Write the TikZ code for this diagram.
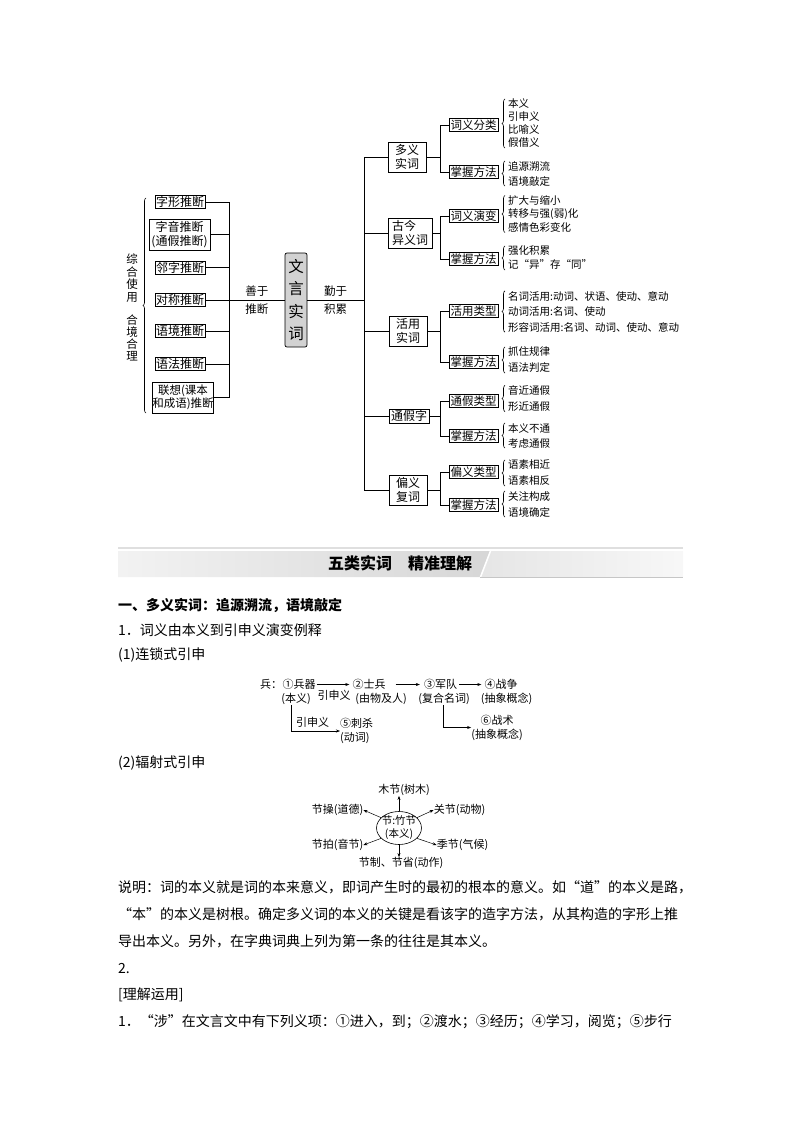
\documentclass[tikz,border=0pt]{standalone}
\usepackage{fontspec}
\setmainfont{Noto Sans CJK SC}
\usepackage{tikz}
\usetikzlibrary{arrows.meta}
\usetikzlibrary{shapes.geometric, calc, decorations.pathreplacing}

\begin{document}
\begin{tikzpicture}[x=1pt, y=-1pt,
    boite/.style={draw, line width=0.7pt, inner sep=0pt, align=center, font=\fontsize{12}{13.5}\selectfont},
    methode/.style={boite, minimum width=49pt, minimum height=13pt, font=\fontsize{11.5}{12}\selectfont},
    liste/.style={anchor=west, inner sep=0pt, align=left, font=\fontsize{10.5}{#1}\selectfont},
    liste/.default=15,
    lien/.style={align=center, inner sep=0pt, font=\fontsize{11.5}{18}\selectfont},
    accolade/.style={decorate, decoration={brace, amplitude=3pt}, line width=0.6pt},
    texte/.style={anchor=west, inner sep=0pt, font=\fontsize{14}{16}\selectfont},
    petit/.style={inner sep=0pt, font=\fontsize{11}{14}\selectfont},
    fleche/.style={-{Stealth[length=4pt, width=3pt]}, line width=0.5pt}
]
\useasboundingbox (0,0) rectangle (800,1132);

% Partie gauche
\node[boite, minimum width=50pt, minimum height=13pt] (zixing) at (180,202) {字形推断};
\node[boite, minimum width=61pt, minimum height=31pt] (ziyin) at (179.5,234.5) {字音推断\\(通假推断)};
\node[boite, minimum width=50pt, minimum height=13pt] (linzi) at (180,267.5) {邻字推断};
\node[boite, minimum width=50pt, minimum height=13pt] (duichen) at (180,300) {对称推断};
\node[boite, minimum width=50pt, minimum height=13pt] (yujing) at (180,331) {语境推断};
\node[boite, minimum width=50pt, minimum height=13pt] (yufa) at (180,364) {语法推断};
\node[boite, minimum width=60pt, minimum height=31pt, font=\fontsize{11.5}{13.5}\selectfont] (lianxiang) at (183,397.5) {联想(课本\\和成语)推断};
\draw[accolade] (146,413) -- (146,198);
\node[inner sep=0pt, align=center, font=\fontsize{11.5}{12.5}\selectfont] (zonghe) at (132,278) {综\\合\\使\\用};
\node[inner sep=0pt, align=center, font=\fontsize{11.5}{12}\selectfont] (hejing) at (132,338) {合\\境\\合\\理};

% Centre
\node[draw, line width=0.7pt, fill=gray!35, rounded corners=2pt, inner sep=0pt, align=center,
      minimum width=22pt, minimum height=94pt, font=\fontsize{15.5}{22.5}\selectfont] (wenyan) at (296,300) {文\\言\\实\\词};
\coordinate (gauche) at (229,300);
\coordinate (tronc) at (364,300);
\foreach \n in {zixing,ziyin,linzi,duichen,yujing,yufa,lianxiang}
    \draw[line width=0.7pt] (\n.east) -| (gauche);
\draw[line width=0.7pt] (gauche) -- node[lien]{善于\\推断} (wenyan.west);
\draw[line width=0.7pt] (wenyan.east) -- node[lien]{勤于\\积累} (tronc);

% Partie droite
\node[boite, minimum width=38pt, minimum height=30pt] (duoyi) at (407,157) {多义\\实词};
\node[boite, align=left, minimum width=44pt, minimum height=30pt] (gujin) at (410,233) {古今\\异义词};
\node[boite, minimum width=38pt, minimum height=30pt] (huoyong) at (408,331) {活用\\实词};
\node[boite, minimum width=40pt, minimum height=14pt] (tongjia) at (409,416) {通假字};
\node[boite, minimum width=38pt, minimum height=30pt] (pianyi) at (408,490) {偏义\\复词};
\foreach \n in {duoyi,gujin,huoyong,tongjia,pianyi}
    \draw[line width=0.7pt] (tronc) |- (\n.west);

\node[methode] (fenlei) at (473.5,125) {词义分类};
\node[methode] (fa1) at (473.5,172) {掌握方法};
\node[methode] (yanbian) at (473.5,216) {词义演变};
\node[methode] (fa2) at (473.5,259) {掌握方法};
\node[methode] (leixing) at (473.5,311) {活用类型};
\node[methode] (fa3) at (473.5,362) {掌握方法};
\node[methode] (tjlei) at (473.5,401) {通假类型};
\node[methode] (fa4) at (473.5,436) {掌握方法};
\node[methode] (pylei) at (473.5,472) {偏义类型};
\node[methode] (fa5) at (473.5,505) {掌握方法};
\foreach \p/\a/\b in {duoyi/fenlei/fa1, gujin/yanbian/fa2, huoyong/leixing/fa3, tongjia/tjlei/fa4, pianyi/pylei/fa5} {
    \draw[line width=0.7pt] (\p.east) -| ([xshift=-8pt]\a.west) -- (\a.west);
    \draw[line width=0.7pt] (\p.east) -| ([xshift=-8pt]\b.west) -- (\b.west);
}

% Listes
\node[liste=13] (i1) at (508,123.5) {本义\\引申义\\比喻义\\假借义};
\node[liste] (i2) at (508,173.5) {追源溯流\\语境敲定};
\node[liste=13.5] (i3) at (508,214) {扩大与缩小\\转移与强(弱)化\\感情色彩变化};
\node[liste=14] (i4) at (508,258) {强化积累\\记“异”存“同”};
\node[liste=15.5] (i5) at (508,311.5) {名词活用:动词、状语、使动、意动\\动词活用:名词、使动\\形容词活用:名词、动词、使动、意动};
\node[liste=16] (i6) at (508,360) {抓住规律\\语法判定};
\node[liste=16] (i7) at (508,398.5) {音近通假\\形近通假};
\node[liste] (i8) at (508,435.5) {本义不通\\考虑通假};
\node[liste=16] (i9) at (508,473) {语素相近\\语素相反};
\node[liste=16] (i10) at (508,504) {关注构成\\语境确定};
\foreach \n in {i1,i2,i3,i4,i5,i6,i7,i8,i9,i10}
    \draw[accolade] ([xshift=-3pt]\n.south west) -- ([xshift=-3pt]\n.north west);

% Bandeau
\draw[gray!25, line width=1.5pt] (118,548) -- (683,548);
\shade[left color=gray!10, right color=gray!32] (118,551) -- (490,551) -- (480,577) -- (118,577) -- cycle;
\shade[left color=gray!20, right color=gray!6] (490,551) -- (683,551) -- (683,577) -- (480,577) -- cycle;
\draw[white, line width=1.5pt] (490.5,551) -- (480.5,577);
\draw[gray!45, line width=1.2pt] (480,577.5) -- (683,577.5);
\node[inner sep=0pt, font=\fontsize{16}{18}\selectfont\bfseries] (titre) at (400,563) {五类实词\quad 精准理解};

% Texte
\node[texte, font=\fontsize{14}{16}\selectfont\bfseries] (l1) at (118,605) {一、多义实词：追源溯流，语境敲定};
\node[texte] (l2) at (118,630) {1．词义由本义到引申义演变例释};
\node[texte] (l3) at (118,655) {(1)连锁式引申};
\node[texte] (l4) at (118,763) {(2)辐射式引申};
\node[texte] (l5) at (118,887) {说明：词的本义就是词的本来意义，即词产生时的最初的根本的意义。如“道”的本义是路，};
\node[texte] (l6) at (118,914) {“本”的本义是树根。确定多义词的本义的关键是看该字的造字方法，从其构造的字形上推};
\node[texte] (l7) at (118,941) {导出本义。另外，在字典词典上列为第一条的往往是其本义。};
\node[texte] (l8) at (118,968) {2.};
\node[texte] (l9) at (118,995) {[理解运用]};
\node[texte] (l10) at (118,1022) {1．“涉”在文言文中有下列义项：①进入，到；②渡水；③经历；④学习，阅览；⑤步行};

% Enchainement
\node[petit] (s1) at (299,684.5) {①兵器};
\node[petit, anchor=east] (s0) at (s1.west) {兵：};
\node[petit] (s2) at (369,684.5) {②士兵};
\node[petit] (s3) at (440.5,684.5) {③军队};
\node[petit] (s4) at (501,684.5) {④战争};
\node[petit] (b1) at (296,699) {(本义)};
\node[petit] (b2) at (381,699) {(由物及人)};
\node[petit] (b3) at (444,699) {(复合名词)};
\node[petit] (b4) at (506.5,699) {(抽象概念)};
\node[petit, align=left, anchor=west] (s5) at (340,731) {⑤刺杀\\(动词)};
\node[petit, align=center] (s6) at (497,727.5) {⑥战术\\(抽象概念)};
\draw[fleche, shorten <=1pt, shorten >=3pt] (s1.east) -- node[petit, below=5pt]{引申义} (s2.west);
\draw[fleche, shorten <=10pt, shorten >=4pt] (s2.east) -- (s3.west);
\draw[fleche, shorten <=2pt, shorten >=3pt] (s3.east) -- (s4.west);
\draw[fleche] ([xshift=-5pt]b1.south) |- node[petit, above=3pt, pos=0.72]{引申义} (s5.west);
\draw[fleche] ([xshift=-1pt]b3.south) |- (s6.west);

% Rayonnement
\node[draw, ellipse, line width=0.6pt, inner sep=-2pt, minimum width=45pt, minimum height=33pt,
      align=center, font=\fontsize{10.5}{13}\selectfont] (c) at (399,828) {节:竹节\\(本义)};
\node[petit] (t1) at (404,790) {木节(树木)};
\node[petit] (t2) at (337.5,810) {节操(道德)};
\node[petit] (t3) at (459.5,810) {关节(动物)};
\node[petit] (t4) at (337.5,845) {节拍(音节)};
\node[petit] (t5) at (462.5,845) {季节(气候)};
\node[petit] (t6) at (401,863) {节制、节省(动作)};
\draw[fleche] (c.north) -- (c.north |- t1.south);
\draw[fleche] (c.150) -- (t2.east);
\draw[fleche] (c.30) -- (t3.west);
\draw[fleche] (c.210) -- (t4.east);
\draw[fleche] (c.330) -- (t5.west);
\draw[fleche] (c.south) -- (c.south |- t6.north);
\end{tikzpicture}
\end{document}
